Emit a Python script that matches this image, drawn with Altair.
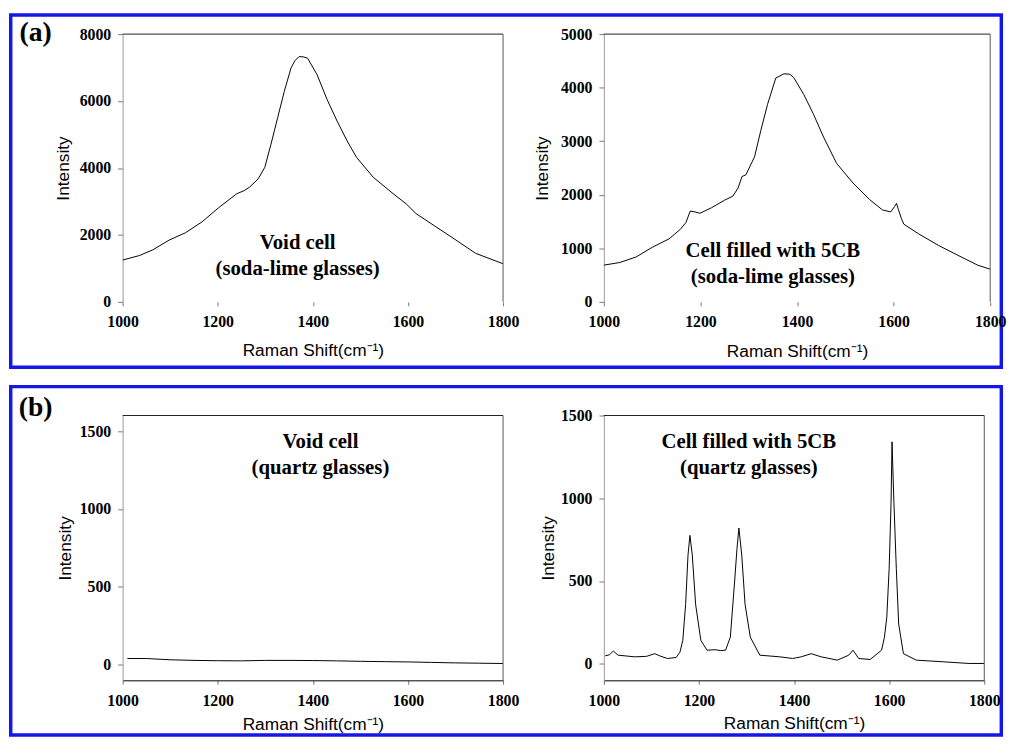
import altair as alt
import pandas as pd

# ---------------- data ----------------
xticks = [1000, 1200, 1400, 1600, 1800]

# (a) left: void cell, soda-lime glasses
a1_x = [1000, 1035, 1063, 1098, 1132, 1167, 1202, 1240, 1255, 1267, 1285, 1299, 1312, 1326,
        1340, 1354, 1362, 1371, 1380, 1389, 1409, 1430, 1451, 1472, 1492, 1527, 1569, 1596,
        1617, 1659, 1701, 1742, 1800]
a1_y = [1250, 1383, 1551, 1847, 2064, 2390, 2815, 3230, 3320, 3427, 3674, 4020, 4711, 5502,
        6291, 6983, 7200, 7328, 7320, 7279, 6785, 6044, 5402, 4810, 4316, 3724, 3230, 2933,
        2637, 2242, 1847, 1452, 1140]

# (a) right: cell filled with 5CB, soda-lime glasses
a2_x = [1000, 1033, 1067, 1101, 1135, 1159, 1170, 1179, 1189, 1199, 1223, 1250, 1267, 1278,
        1286, 1294, 1312, 1325, 1339, 1356, 1373, 1385, 1393, 1414, 1434, 1455, 1482, 1516,
        1550, 1577, 1594, 1602, 1606, 1610, 1616, 1621, 1652, 1693, 1733, 1774, 1800]
a2_y = [686, 735, 839, 1023, 1176, 1360, 1483, 1697, 1679, 1654, 1758, 1899, 1973, 2126,
        2341, 2371, 2708, 3199, 3689, 4179, 4259, 4250, 4191, 3873, 3505, 3076, 2586, 2218,
        1912, 1716, 1680, 1780, 1840, 1720, 1560, 1452, 1268, 1054, 870, 686, 610]

# (b) left: void cell, quartz glasses
b1_x = [1010, 1050, 1100, 1150, 1200, 1250, 1300, 1350, 1400, 1450, 1500, 1550, 1600, 1650,
        1700, 1750, 1800]
b1_y = [40, 40, 32, 28, 26, 25, 28, 28, 27, 25, 22, 20, 18, 15, 12, 10, 8]

# (b) right: cell filled with 5CB, quartz glasses
b2_x = [1003, 1012, 1020, 1030, 1065, 1090, 1107, 1120, 1134, 1152, 1160, 1166, 1172, 1177,
        1181, 1186, 1193, 1204, 1217, 1234, 1245, 1256, 1266, 1274, 1280, 1284, 1290, 1297,
        1308, 1328, 1370, 1397, 1415, 1436, 1457, 1491, 1515, 1524, 1536, 1560, 1584, 1590,
        1595, 1600, 1604, 1606, 1610, 1615, 1620, 1630, 1657, 1713, 1768, 1800]
b2_y = [48, 55, 77, 52, 42, 45, 61, 45, 32, 38, 70, 141, 359, 657,
        776, 657, 359, 141, 82, 85, 80, 82, 161, 458, 696, 820, 657, 359,
        161, 52, 42, 32, 42, 61, 42, 22, 52, 82, 32, 26, 82, 160,
        280, 577, 974, 1341, 974, 577, 240, 61, 22, 12, 2, 2]

# annotations (data coordinates)
a1_note_x = [1368, 1368]
a1_note_y = [1742, 974]
a1_note = ["Void cell", "(soda-lime glasses)"]

a2_note_x = [1350, 1350]
a2_note_y = [941, 461]
a2_note = ["Cell filled with 5CB", "(soda-lime glasses)"]

b1_note_x = [1416, 1416]
b1_note_y = [1427, 1262]
b1_note = ["Void cell", "(quartz glasses)"]

b2_note_x = [1305, 1305]
b2_note_y = [1337, 1182]
b2_note = ["Cell filled with 5CB", "(quartz glasses)"]

# ---------------- style ----------------
BLUE = "#1616e8"
SERIF = "Liberation Serif"
SANS = "Liberation Sans"
one = pd.DataFrame({"k": [0]})


def panel(xs, ys, nx, ny, nt, ydom, yticks, w, h, title_x, title_y, show_xdomain, deco=()):
    df = pd.DataFrame({"x": xs, "y": ys})
    nd = pd.DataFrame({"x": nx, "y": ny, "t": nt})
    xenc = alt.X(
        "x:Q",
        scale=alt.Scale(domain=[1000, 1800], nice=False, zero=False),
        axis=alt.Axis(values=xticks, format="d", title="Raman Shift(cm⁻¹)",
                      titleY=title_y, titleBaseline="middle", labelFlush=False,
                      domain=show_xdomain, domainColor="#000000", tickSize=4,
                      tickColor="#777777", labelPadding=8, grid=False),
    )
    yenc = alt.Y(
        "y:Q",
        scale=alt.Scale(domain=ydom, nice=False, zero=False),
        axis=alt.Axis(values=yticks, format="d", title="Intensity",
                      titleX=title_x, titleBaseline="middle", domainColor="#999999",
                      tickColor="#777777", tickSize=5, labelPadding=7, grid=False),
    )
    line = alt.Chart(df).mark_line(color="black", strokeWidth=1, clip=True).encode(x=xenc, y=yenc)
    notes = alt.Chart(nd).mark_text(font=SERIF, fontSize=21, fontWeight="bold", color="black",
                                    align="center", baseline="middle").encode(
        x=xenc, y=yenc, text="t:N")
    top = alt.Chart(one).mark_rule(color="#222222", strokeWidth=1).encode(
        x=alt.value(0), x2=alt.value(w), y=alt.value(0))
    right = alt.Chart(one).mark_rule(color="#555555", strokeWidth=1).encode(
        x=alt.value(w), y=alt.value(0), y2=alt.value(h))
    layers = [line, notes, top, right] + list(deco)
    return alt.layer(*layers).properties(width=w, height=h)


def frame(x1, x2, y1, y2, label, lx, ly):
    box = alt.Chart(one).mark_rect(filled=False, stroke=BLUE, strokeWidth=3.5).encode(
        x=alt.value(x1), x2=alt.value(x2), y=alt.value(y1), y2=alt.value(y2))
    lab = alt.Chart(one).mark_text(text=label, font=SERIF, fontSize=28, fontWeight="bold",
                                   color="black", align="center", baseline="middle").encode(
        x=alt.value(lx), y=alt.value(ly))
    return [box, lab]


pa1 = panel(a1_x, a1_y, a1_note_x, a1_note_y, a1_note, [0, 8000],
            [0, 2000, 4000, 6000, 8000], 385, 271, -60, 49, False,
            frame(-113.25, 889.25, -19.25, 337.25, "(a)", -88, -1))
pa2 = panel(a2_x, a2_y, a2_note_x, a2_note_y, a2_note, [0, 5000],
            [0, 1000, 2000, 3000, 4000, 5000], 391, 271, -62, 50, False)
pb1 = panel(b1_x, b1_y, b1_note_x, b1_note_y, b1_note, [-100, 1600],
            [0, 500, 1000, 1500], 385, 268, -58, 45, True,
            frame(-113.25, 889.25, -29.25, 323.25, "(b)", -88, -7.5))
pb2 = panel(b2_x, b2_y, b2_note_x, b2_note_y, b2_note, [-100, 1500],
            [0, 500, 1000, 1500], 385, 268, -56, 44, True)

chart = alt.concat(
    pa1, pa2, pb1, pb2, columns=2, bounds="flush", align="none",
    spacing={"row": 115, "column": 102},
).properties(
    padding=0, background="white"
).configure_view(stroke="transparent").configure_axis(
    labelFont=SERIF, labelFontSize=16, labelFontWeight="bold", labelColor="black",
    titleFont=SANS, titleFontSize=17.5, titleFontWeight="normal", titleColor="black",
)

chart.save("out.html", embed_options={"renderer": "svg", "actions": False})
